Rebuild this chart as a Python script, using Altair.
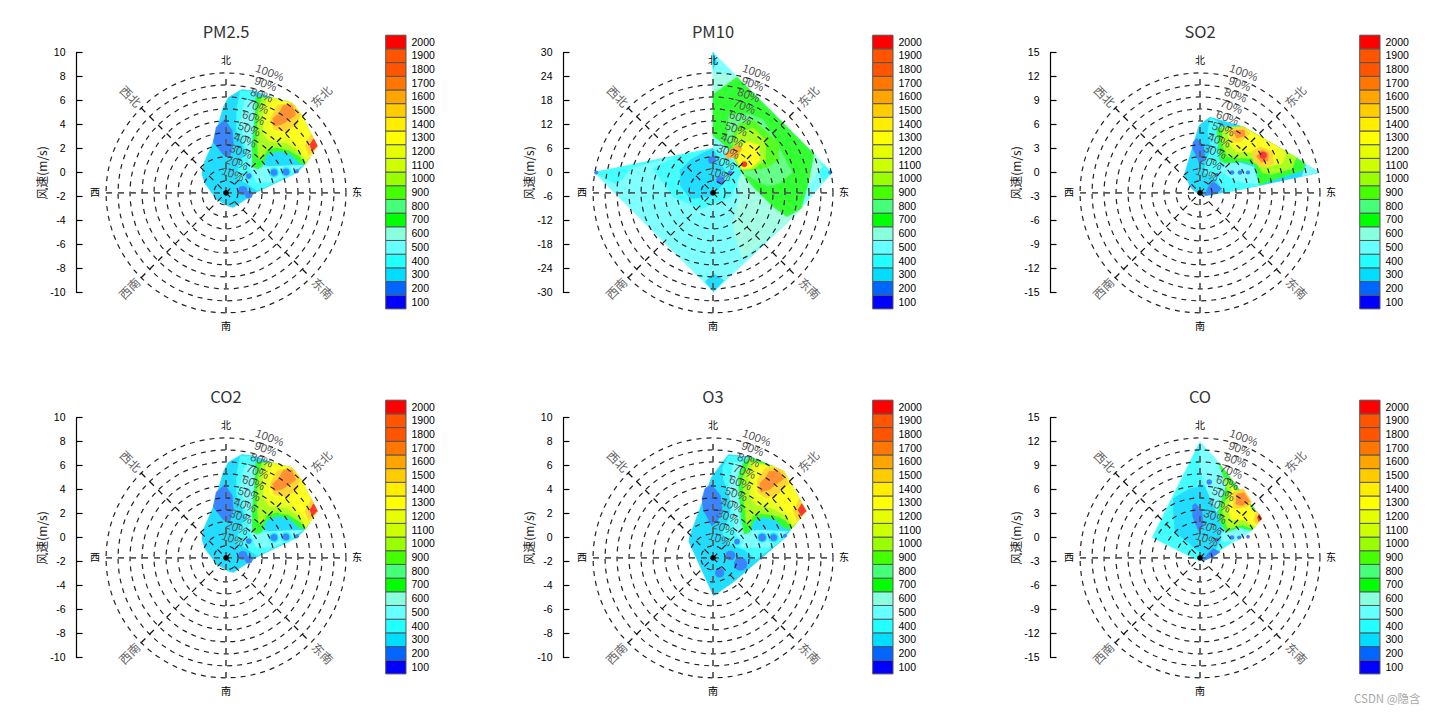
import math
import altair as alt
import pandas as pd

LEVELS = [100, 200, 300, 400, 500, 600, 700, 800, 900, 1000, 1100, 1200, 1300, 1400, 1500, 1600, 1700, 1800, 1900, 2000]
BAR_COLORS = ["#0000ff", "#0066ff", "#00ddff", "#22ffff", "#66ffff", "#88ffdd", "#00ff00", "#44ff77", "#44ff00", "#99ff00",
              "#ccff00", "#e5ff00", "#ffff00", "#ffee00", "#ffcc00", "#ffa500", "#ff7700", "#ff5500", "#ff5500", "#ff0000"]
FILL_COLORS = ["#3344ff", "#3a85ff", "#22ddff", "#45ffff", "#80ffff", "#a5ffe5", "#33ff33", "#66ff88", "#55ff22", "#aaff22",
               "#d5ff22", "#eaff22", "#ffff22", "#fff022", "#ffd633", "#ffb033", "#ff9033", "#ff7733", "#ff6633", "#ff3333"]
DIRS_MAIN = ["北", "东", "南", "西"]
DIRS_DIAG = ["东北", "东南", "西南", "西北"]
PCT = ["10%", "20%", "30%", "40%", "50%", "60%", "70%", "80%", "90%", "100%"]
WATERMARK = "CSDN @隐含"

PM25_SHAPES = [
    (300, [1.3, 2.3, 3.9, 5.5, 6.2, 7.6, 6.6, 5.9, 2.6, 0.6, 0.2, -0.8, -1.75, -2.0, -1.9, -1.05, -0.2, 0.2],
          [6.9, 6.8, 6.2, 5.8, 4.9, 2.2, 0.7, 0.0, -1.6, -2.9, -2.8, -2.2, -0.9, -0.1, 0.6, 2.55, 5.5, 6.25]),
    (400, [1.2, 2.3, 2.7, 2.3, 2.3, 3.4, 5.9, 2.6, 1.7, 0.9, 1.2, 1.7, 0.9, 0.9],
          [6.8, 6.7, 5.5, 3.25, 1.6, 0.5, 0.0, -1.5, -0.9, -0.4, 1.0, 1.6, 3.5, 5.2]),
    (500, [1.6, 2.3, 2.6, 2.3, 2.3, 2.9, 3.8, 6.4, 5.0, 3.6, 2.5, 2.0, 1.7, 1.2],
          [6.0, 6.0, 4.5, 3.2, 1.2, 0.4, 0.5, 0.6, -0.3, -0.8, -0.8, 0.4, 2.1, 4.2]),
    (200, [-0.1, 0.5, 0.6, 0.3, -0.2, -1.05, -0.8], [4.4, 3.5, 2.4, 1.3, 1.45, 2.55, 3.8]),
    (700, [2.5, 3.9, 5.5, 6.2, 7.6, 6.6, 6.1, 5.3, 4.3, 3.4, 3.0, 2.6, 2.2, 2.2, 2.4],
          [6.3, 6.2, 5.8, 4.9, 2.2, 0.7, 0.8, 1.6, 1.8, 1.5, 0.5, 0.3, 0.5, 2.3, 4.5]),
    (1000, [3.0, 3.9, 5.5, 6.2, 7.6, 6.6, 6.2, 5.2, 4.2, 3.4, 3.0, 2.7, 2.6, 2.7],
           [6.2, 6.2, 5.8, 4.9, 2.2, 0.7, 1.3, 1.9, 2.1, 1.9, 1.1, 1.2, 3.0, 5.0]),
    (1200, [3.4, 3.9, 5.5, 6.2, 7.6, 6.7, 6.0, 5.0, 3.6, 3.1, 3.1],
           [6.1, 6.2, 5.8, 4.9, 2.2, 0.9, 1.9, 2.5, 2.6, 3.3, 5.0]),
    (1300, [3.9, 5.5, 6.2, 7.6, 7.0, 6.4, 5.5, 4.5, 3.6, 3.6],
           [5.9, 5.8, 4.9, 2.2, 1.3, 1.9, 2.9, 3.2, 3.6, 5.0]),
    (1500, [4.3, 5.5, 6.2, 5.9, 5.0, 4.0, 3.7], [5.6, 5.8, 4.9, 4.0, 3.4, 3.6, 4.5]),
    (1700, [4.8, 5.5, 5.8, 5.1, 4.6, 4.0, 3.9, 4.4], [5.6, 5.6, 4.8, 4.3, 4.0, 3.9, 4.5, 4.9]),
    (1500, [7.6, 6.9, 6.6, 7.1], [2.2, 1.4, 2.2, 3.2]),
    (2000, [7.6, 7.2, 7.0, 7.3], [2.2, 1.8, 2.3, 2.8]),
]
PM25_SPOTS = [(4.0, 0.0, 400, 130), (5.0, 0.05, 400, 130), (1.9, -0.3, 400, 90), (1.5, -1.6, 300, 200),
              (4.0, 0.0, 300, 80), (5.0, 0.05, 300, 80),
              (4.0, 0.0, 200, 42), (5.0, 0.05, 200, 42), (5.9, 0.1, 200, 18), (1.9, -0.3, 200, 32),
              (1.4, -1.5, 200, 85), (1.9, -1.85, 200, 55)]

PM10_SHAPES = [
    (500, [0, 29.75, 20.2, 0.15, -29.7, -8.6, 0], [30, 0, -11, -29.8, 0, 4.3, 6]),
    (400, [-29.7, -24, -20, -8.6], [0, -3, 1.4, 4.3]),
    (300, [0.15, -1.9, 0.15, 2.7], [-29.8, -27.3, -25.3, -27]),
    (300, [0, 0.9, 0], [30, 27.5, 26]),
    (400, [29.75, 27, 26.4, 27.6], [0, 2.4, 0, -2.2]),
    (600, [0, 6, 25.3, 27.3, 24.3, 20.2, 7.6, 5.5, 5, 7, 5, 0], [25, 24, 4.7, 1.5, -2.5, -11, -21.5, -16, -12, -5, 3, 19]),
    (400, [-8.6, 0, 5, 7, 4.5, -3, -10, -15], [4.3, 6, 3, 0, -6, -9, -6, 1]),
    (300, [-2.75, 0, 1, 3.1, 2.7, -0.7, -5.7, -8.2, -8.2, -5.7], [4.75, 6, 3.9, 0.2, -2.75, -6, -6.5, -3.2, 0.6, 3.1]),
    (700, [0, 6, 25.2, 23.7, 22, 18.5, 15, 10, 7, 4, 0], [19.5, 23.8, 4.6, -3, -9, -11, -8.5, -3.5, 0.3, 6, 9.3]),
    (800, [4, 8.5, 12.7, 16.4, 19.8, 16.4, 13.5, 9.3, 6.8, 6, 3.5], [14.3, 14.7, 13.1, 6.4, 0, -2.75, -3.3, -1.1, 0.2, 4.75, 8.9]),
    (900, [6.8, 10.2, 16.4, 16.4, 13.5, 10.2, 7.25, 5.2, 4.75], [12.25, 13, 7.25, 3.1, 1.4, 0.6, 0.6, 3.9, 8.9]),
    (1000, [6.4, 10.2, 13.1, 13.1, 10.2, 7.25, 5.6, 5.2], [10.2, 11, 8.1, 3.1, 1, 0.6, 3.1, 7.25]),
    (1300, [8.5, 11.4, 11.7, 9.3, 7.25, 6, 6.4], [7.7, 6.8, 3.1, 1, 1, 3.1, 6]),
    (1600, [6, 7.25, 6, 3.5, 3.1, 4.75], [6.8, 6, 3.9, 3.5, 4.75, 6]),
]
PM10_SPOTS = [(-0.25, 3.1, 200, 60), (1.8, -1.9, 200, 60), (4.3, -0.1, 200, 25), (-29.2, 0, 200, 16), (29.3, 0, 200, 16),
              (7.8, 2.1, 2000, 35)]

SO2_SHAPES = [
    (300, [1.25, 5.4, 14.9, 7.5, 1.05, 0, -1.05, -1.95, -0.1], [6.9, 5.7, 0, -1.6, -2.85, -2.85, -2, -0.3, 5.9]),
    (400, [1.3, 2.3, 3, 2, 3.4, 5, 7, 7.5, 3, 2, 0.6, 0.8, 1.5, 1], [6.8, 6.3, 4.5, 3, 1, 1, -0.5, -1.6, -2.5, -0.8, 0, 1.5, 3, 5]),
    (500, [3.3, 5, 6.7, 7.3, 5, 3.4, 2.5], [1.1, 1.2, 0.7, -1.4, -1.2, -0.4, 0.2]),
    (200, [-0.4, 0.4, 0.6, 0, -0.2, -0.9, -0.85], [4.25, 3.4, 1.95, 0.9, 1.55, 3, 3.8]),
    (200, [1.65, 2.7, 2.1, 0.6, 1.05], [-1.15, -2, -2.6, -2.85, -1.8]),
    (500, [14.9, 13.3, 12.8], [0, 1, -0.4]),
    (700, [2.1, 5.4, 13.1, 12.9, 7.4, 7.2, 6.8, 5.2, 3.2, 2.5, 2.3], [5.5, 5.7, 1.2, 0.3, -1.5, 0, 1, 1.4, 1.2, 1.5, 3.5]),
    (1000, [2.8, 5.4, 12, 11.5, 9, 7.8, 7.2, 7, 5, 3.5, 2.8], [5.7, 5.7, 1.9, 0.5, -0.2, 0, 1, 1.8, 1.8, 2, 3.5]),
    (1200, [3.5, 5.4, 10.8, 10.3, 8, 7.4, 6.5, 4.5, 3.7], [5.5, 5.6, 2.5, 1.2, 0.7, 1.5, 2.5, 2.6, 3.5]),
    (1300, [4, 5.4, 9.8, 9, 7.5, 6, 4], [5.5, 5.6, 3.1, 1.9, 1.5, 3, 3.5]),
    (1500, [7.5, 9, 9.2, 7.9, 6.7, 6.5], [3.2, 2.6, 1.1, 0.7, 1.3, 2.6]),
    (1700, [7.7, 8.5, 8.5, 7.7, 7.1], [2.8, 2.4, 1.5, 1.3, 2]),
    (1500, [3.75, 5.4, 6.25, 5, 4, 3.75], [5.5, 5.7, 4.9, 3.8, 3.8, 4.7]),
    (1700, [4.2, 5.5, 5.6, 4.6], [5.2, 5.3, 4.6, 4.3]),
]
SO2_SPOTS = [(4, 0, 200, 22), (5, 0, 200, 22), (6, 0, 200, 18), (2.1, -0.3, 200, 14), (7.9, 2.15, 2000, 50)]

O3_SHAPES = [
    (300, [1.3, 3.1, 5.05, 5.9, 7.75, 6.5, 5.9, 1.7, 0.05, -2, -1.95, -0.1, 0.9],
          [6.9, 6.7, 5.9, 5.5, 2.2, 0.7, -0.1, -3.7, -4.85, -0.35, 0.05, 5.05, 6.4]),
    (400, [1.3, 3, 2.6, 2.3, 2.4, 3.5, 5.9, 3.6, 2.6, 1.4, 0.8, 1.3, 1.6, 0.9, 0.8],
          [6.8, 6.6, 5, 3.2, 1.5, 0.5, -0.1, -1.8, -1, -0.6, 0.4, 1.5, 3, 4.8, 5.8]),
    (500, [1.7, 2.4, 2.5, 2.2, 2.2, 2.9, 3.7, 6.2, 4.6, 3.4, 2.4, 1.9, 1.6, 1.3],
          [6.2, 6.2, 4.5, 3, 1.2, 0.4, 0.6, 0.5, -0.8, -0.8, -0.8, 0.4, 2.2, 4]),
    (200, [-0.1, 0.6, 0.75, 0.35, -0.1, -0.8, -0.9, -0.65], [4.4, 3.5, 2.4, 1.3, 1.0, 2.3, 3.25, 4.1]),
    (700, [2.6, 3.1, 5.05, 5.9, 7.75, 6.5, 5.9, 5.2, 4.2, 3.4, 3, 2.6, 2.4, 2.2, 2.1],
          [6.3, 6.7, 5.9, 5.5, 2.2, 0.7, 0.8, 1.5, 1.7, 1.4, 0.4, 0.3, 1.5, 3.5, 5]),
    (1000, [3.1, 5.05, 5.9, 7.75, 6.6, 6, 5, 4, 3.3, 3, 2.8, 2.6, 2.5],
           [6.4, 5.9, 5.5, 2.2, 0.8, 1.5, 1.9, 2, 1.8, 1, 1.2, 3, 5]),
    (1200, [3.4, 5.05, 5.9, 7.75, 6.7, 5.8, 4.8, 3.6, 3.1, 3], [6.2, 5.9, 5.5, 2.2, 1, 2, 2.5, 2.7, 3.4, 5]),
    (1300, [3.9, 5.05, 5.9, 7.75, 7, 6.3, 5.4, 4.4, 3.5, 3.5], [6, 5.9, 5.5, 2.2, 1.3, 2, 3, 3.2, 3.7, 5]),
    (1500, [4.4, 5.05, 5.9, 6.3, 5.4, 4.4, 3.7, 3.7], [5.8, 5.9, 5.5, 4.5, 3.6, 3.3, 3.8, 4.8]),
    (1700, [4.7, 5.5, 5.9, 5.2, 4.7, 4, 3.9, 4.4], [5.5, 5.5, 4.9, 4.4, 4, 3.8, 4.5, 5]),
    (1500, [7.75, 7, 6.7, 7.2], [2.2, 1.4, 2.2, 3.2]),
    (2000, [7.75, 7.35, 7.1, 7.4], [2.2, 1.8, 2.3, 2.8]),
]
O3_SPOTS = [(4.1, 0, 400, 130), (5.05, 0, 400, 130), (2, -0.35, 400, 90), (1.7, -1.8, 300, 380), (0.55, -2.95, 300, 170),
            (4.1, 0, 300, 85), (5.05, 0, 300, 85),
            (4.1, 0, 200, 55), (5.05, 0, 200, 45), (6, 0.15, 200, 16), (2, -0.35, 200, 32),
            (1.45, -1.5, 200, 95), (2.3, -2.2, 200, 180), (0.55, -2.95, 200, 85)]

CO_SHAPES = [
    (400, [0, 7.7, 6.45, 0.4, -0.2, -5.95], [11.95, 2.4, 0.9, -2.9, -2.85, 0]),
    (300, [-3.3, -1.25, 0.8, 1.65, 2.5, 2.9, 1.65, 0.4, 0, -3.1, -3.3], [4.9, 6.1, 6.5, 4.9, 2.4, 0.3, -2, -2.85, -1.8, 0.7, 3.2]),
    (500, [0, 2.1, 3.3, 2.1, 0.8, 0], [11.95, 9.7, 6.5, 3.2, 6.1, 8.6]),
    (500, [3, 4.5, 6.2, 4.6, 3, 2.5], [1, 1.2, 0.7, -0.4, -0.5, 0]),
    (200, [-0.6, 0.2, 0.4, -0.1, -0.9, -0.9], [4.25, 3.4, 1.55, 0.7, 2.6, 4]),
    (200, [1.65, 2.5, 1.65, 0.4, 1], [-1.4, -1.8, -2.4, -2.9, -2]),
    (700, [2.3, 7.7, 6.45, 5, 3.3, 2.5, 2.3, 3.3, 2.9], [9.4, 2.4, 0.9, 1.3, 0.7, 2, 3.2, 6.5, 7.8]),
    (1000, [3, 7.7, 6.6, 5.3, 3.5, 3, 2.8, 3.6], [7.5, 2.4, 1.1, 1.6, 1.1, 2.5, 3.6, 5.5]),
    (1300, [4, 7.7, 6.9, 5.5, 4, 3.5, 3.9], [6.3, 2.4, 1.4, 2.2, 2.2, 3.4, 5]),
    (1500, [4.2, 5.4, 6.45, 5.85, 4.2], [5.7, 6.1, 4.45, 3.8, 3.6]),
    (1700, [4.6, 5.5, 6.2, 5.3, 4.5], [5.4, 5.6, 4.5, 4, 4.2]),
    (1500, [7.7, 7.1, 6.7, 7.1], [2.4, 1.6, 2.2, 3.2]),
    (2000, [7.7, 7.35, 7.2, 7.4], [2.4, 2, 2.5, 2.9]),
]
CO_SPOTS = [(4, 0, 200, 22), (4.9, 0, 200, 18), (6, 0.1, 200, 14), (2.1, -0.3, 200, 14), (1.15, 6.95, 200, 30)]

PANELS = [
    ("PM2.5", 10, 2, PM25_SHAPES, PM25_SPOTS),
    ("PM10", 30, 6, PM10_SHAPES, PM10_SPOTS),
    ("SO2", 15, 3, SO2_SHAPES, SO2_SPOTS),
    ("CO2", 10, 2, PM25_SHAPES, PM25_SPOTS),
    ("O3", 10, 2, O3_SHAPES, O3_SPOTS),
    ("CO", 15, 3, CO_SHAPES, CO_SPOTS),
]

SIDE = 240
CJK = "Noto Sans CJK SC"
LAT = "Liberation Sans"
fill_of = dict(zip(LEVELS, FILL_COLORS))


def panel(name, R, step, shapes, spots, mark=False):
    cy = -0.17 * R
    xs = alt.Scale(domain=[-R, R])
    ys = alt.Scale(domain=[-R, R])
    X = alt.X("x:Q", scale=xs, axis=None)
    Y = alt.Y("y:Q", scale=ys, axis=None)
    vals = list(range(-R, R + 1, step))
    Y_AXIS = alt.Y("y:Q", scale=ys, axis=alt.Axis(
        values=vals, orient="left", offset=30, ticks=False, grid=False, labelExpr="'' + datum.value",
        domainColor="#000000", domainWidth=1.2,
        labelFont=LAT, labelFontSize=10.5, labelColor="#000000", labelPadding=11,
        title="风速(m/s)", titleFont=CJK, titleFontSize=12, titleFontWeight="normal", titleColor="#222222",
        titlePadding=0))

    rows = []
    for i, (lv, px, py) in enumerate(shapes):
        for j, (a, b) in enumerate(zip(px, py)):
            rows.append({"s": i, "o": j, "x": a, "y": b, "f": fill_of[lv]})
    fills = alt.Chart(pd.DataFrame(rows)).mark_line(interpolate="linear-closed", strokeWidth=0.8).encode(
        x=X, y=Y_AXIS, detail="s:N", order="o:Q",
        fill=alt.Fill("f:N", scale=None), stroke=alt.Stroke("f:N", scale=None))

    sp = pd.DataFrame([{"x": a, "y": b, "f": fill_of[l], "a": s} for a, b, l, s in spots])
    dots = alt.Chart(sp).mark_circle(opacity=1).encode(
        x=X, y=Y, color=alt.Color("f:N", scale=None), size=alt.Size("a:Q", scale=None))

    ring_rows = []
    for k in range(1, 11):
        for d in range(0, 361, 5):
            t = math.radians(d)
            ring_rows.append({"k": k, "d": d, "x": R * k / 10 * math.cos(t), "y": cy + R * k / 10 * math.sin(t)})
    rings = alt.Chart(pd.DataFrame(ring_rows)).mark_line(color="#222222", strokeWidth=1.2, strokeDash=[5, 5]).encode(
        x=X, y=Y, detail="k:N", order="d:Q")

    card = pd.DataFrame([{"x": -R, "x2": R, "y": cy, "y2": cy}, {"x": 0, "x2": 0, "y": cy - R, "y2": cy + R}])
    spokes = alt.Chart(card).mark_rule(color="#5a5a5a", strokeWidth=1.8, strokeDash=[6, 6]).encode(
        x=X, y=Y, x2="x2:Q", y2="y2:Q")
    q = R * math.sqrt(0.5)
    diag = pd.DataFrame([{"x": -q, "x2": q, "y": cy - q, "y2": cy + q}, {"x": -q, "x2": q, "y": cy + q, "y2": cy - q}])
    diags = alt.Chart(diag).mark_rule(color="#111111", strokeWidth=1.2, strokeDash=[6, 6]).encode(
        x=X, y=Y, x2="x2:Q", y2="y2:Q")

    c1 = alt.Chart(pd.DataFrame({"x": [0], "y": [cy]}))
    star = c1.mark_point(shape="cross", size=28, color="#000000", filled=True, opacity=1).encode(x=X, y=Y)
    star2 = c1.mark_point(shape="cross", size=28, color="#000000", filled=True, opacity=1, angle=45).encode(x=X, y=Y)

    u = R / 120.0
    main = pd.DataFrame({"t": DIRS_MAIN, "x": [0, 131 * u, 0, -131 * u],
                         "y": [cy + 132 * u, cy, cy - 134 * u, cy]})
    main_t = alt.Chart(main).mark_text(font=CJK, fontSize=10, color="#000000").encode(x=X, y=Y, text="t:N")
    dg = []
    for t, sx, sy, ang in zip(DIRS_DIAG, [1, 1, -1, -1], [1, -1, -1, 1], [315, 45, 315, 45]):
        dg.append(alt.Chart(pd.DataFrame({"t": [t], "x": [sx * 96 * u], "y": [cy + sy * 96 * u]}))
                  .mark_text(font=CJK, fontSize=12, color="#666666", angle=ang).encode(x=X, y=Y, text="t:N"))
    pct_rows = []
    for k, t in enumerate(PCT, start=1):
        r = (k * 12 + 7) * u
        pct_rows.append({"t": t, "x": r * math.sin(math.radians(20)), "y": cy + r * math.cos(math.radians(20))})
    pct = alt.Chart(pd.DataFrame(pct_rows)).mark_text(font=LAT, fontSize=11.5, color="#555555", angle=20).encode(
        x=X, y=Y, text="t:N")

    yticks = alt.Chart(pd.DataFrame({"y": vals})).mark_rule(color="#000000", strokeWidth=1.2).encode(
        x=alt.value(-30), x2=alt.value(-23.5), y=Y)

    layers = [fills, dots, rings, spokes, diags, star, star2, main_t] + dg + [pct, yticks]
    if mark:
        layers.append(alt.Chart(pd.DataFrame({"t": [WATERMARK]})).mark_text(
            font=CJK, fontSize=11.5, color="#a9a9a9", align="left").encode(
            x=alt.value(1354 - 1080), y=alt.value(699 - 417), text="t:N"))

    bar = pd.DataFrame({"lo": [v - 50 for v in LEVELS], "hi": [v + 50 for v in LEVELS],
                        "a": [0] * 20, "b": [1] * 20, "c": BAR_COLORS})
    cbar = alt.Chart(bar).mark_rect(stroke="#555555", strokeWidth=1).encode(
        x=alt.X("a:Q", scale=alt.Scale(domain=[0, 1], range=[279.7, 300]), axis=None),
        x2="b:Q",
        y=alt.Y("lo:Q", scale=alt.Scale(domain=[50, 2050], range=[256.4, -17.3]), axis=alt.Axis(
            orient="right", offset=60, values=LEVELS, domain=False, ticks=False, grid=False, labelOverlap=False,
            format="d", labelFont=LAT, labelFontSize=10.5, labelColor="#000000", labelPadding=5, title=None)),
        y2="hi:Q",
        color=alt.Color("c:N", scale=None))

    return alt.layer(*layers, cbar).resolve_scale(x="independent", y="independent").properties(
        width=SIDE, height=SIDE,
        title=alt.TitleParams(name, font=CJK, fontSize=16.5, fontWeight="normal", color="#333333",
                              anchor="middle", offset=0, dy=7))


charts = [panel(n, R, s, sh, sp, mark=(n == "CO")) for n, R, s, sh, sp in PANELS]
chart = alt.concat(*charts, columns=3, spacing={"row": 125, "column": 247}, bounds="flush").properties(
    padding={"left": 28, "top": 16.5, "right": 0, "bottom": 0}, background="#ffffff"
).configure_view(stroke=None)

chart.save("out.html", embed_options={"renderer": "svg", "actions": False})
